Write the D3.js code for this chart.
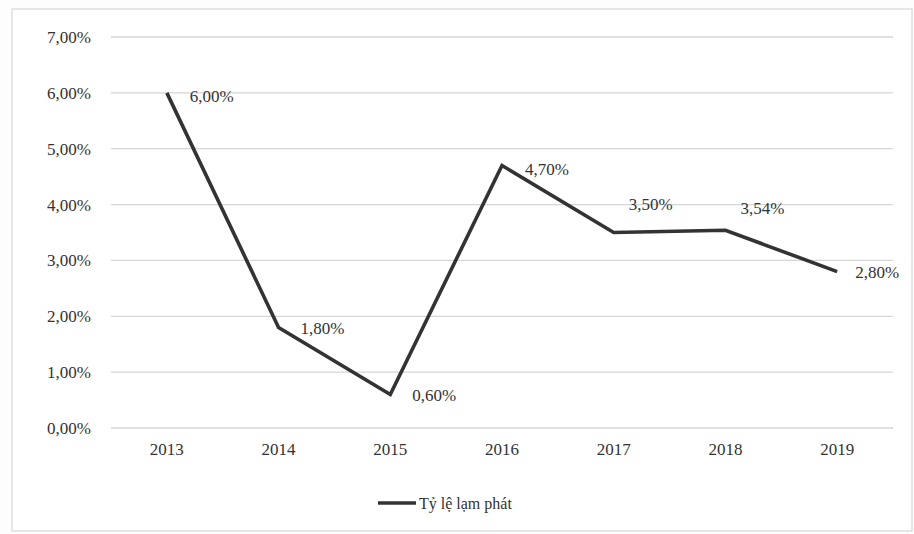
<!DOCTYPE html>
<html><head><meta charset="utf-8">
<script src="https://cdn.jsdelivr.net/npm/d3@7"></script>
<style>
body{margin:0;background:#fff;}
svg{display:block;}
text{font-family:"Liberation Serif","Times New Roman",serif;fill:#333;}
</style></head>
<body><svg id="c" width="914" height="534"></svg>
<script>
const years = ["2013","2014","2015","2016","2017","2018","2019"];
const inflation = [6.00, 1.80, 0.60, 4.70, 3.50, 3.54, 2.80];
const valueLabels = ["6,00%","1,80%","0,60%","4,70%","3,50%","3,54%","2,80%"];
const yTicks = [0,1,2,3,4,5,6,7];
const seriesName = "Tỷ lệ lạm phát";

const svg = d3.select("#c");
svg.append("rect").attr("x",0).attr("y",0).attr("width",914).attr("height",534).attr("fill","#fdfdfd");
svg.append("rect").attr("x",12).attr("y",9).attr("width",900).attr("height",522)
  .attr("fill","#fff").attr("stroke","#dedede").attr("stroke-width",1.5);

const m = {l:111, r:893, t:37, b:428};
const x = d3.scaleBand().domain(years).range([m.l, m.r]);
const y = d3.scaleLinear().domain([0,7]).range([m.b, m.t]);

const fmt = v => v.toFixed(2).replace(".", ",") + "%";

// grid
svg.append("g").selectAll("line").data(yTicks).join("line")
  .attr("x1", m.l).attr("x2", m.r)
  .attr("y1", d=>y(d)).attr("y2", d=>y(d))
  .attr("stroke","#d6d6d6").attr("stroke-width",1.3);

// y axis labels
const ya = svg.append("g").attr("transform",`translate(${m.l},0)`)
  .call(d3.axisLeft(y).tickValues(yTicks).tickFormat(fmt).tickSize(0).tickPadding(20));
ya.select(".domain").remove();
ya.selectAll("text").style("font-family","'Liberation Serif',serif").style("font-size","17px").attr("fill","#3a3a3a");

// x axis labels
const xa = svg.append("g").attr("transform",`translate(0,${m.b})`)
  .call(d3.axisBottom(x).tickSize(0).tickPadding(15));
xa.select(".domain").remove();
xa.selectAll("text").style("font-family","'Liberation Serif',serif").style("font-size","17px").attr("fill","#3a3a3a");

// line
const line = d3.line().x((d,i)=>x(years[i])+x.bandwidth()/2).y(d=>y(d));
svg.append("path").datum(inflation).attr("d",line)
  .attr("fill","none").attr("stroke","#333").attr("stroke-width",3.6).attr("stroke-linejoin","miter");

// data labels
const off = [[23,9],[22,7],[22,7],[23,10],[15,-23],[15,-16],[18,6]];
svg.append("g").selectAll("text").data(inflation).join("text")
  .attr("x",(d,i)=>x(years[i])+x.bandwidth()/2+off[i][0])
  .attr("y",(d,i)=>y(d)+off[i][1])
  .attr("font-size","17px").attr("fill","#333")
  .text((d,i)=>valueLabels[i]);

// legend
const lg = svg.append("g").attr("transform","translate(378,503)");
lg.append("line").attr("x1",0).attr("x2",38).attr("y1",0).attr("y2",0).attr("stroke","#333").attr("stroke-width",3.6);
lg.append("text").attr("x",41).attr("y",6).attr("font-size","16px").attr("fill","#333").text(seriesName);
</script></body></html>
